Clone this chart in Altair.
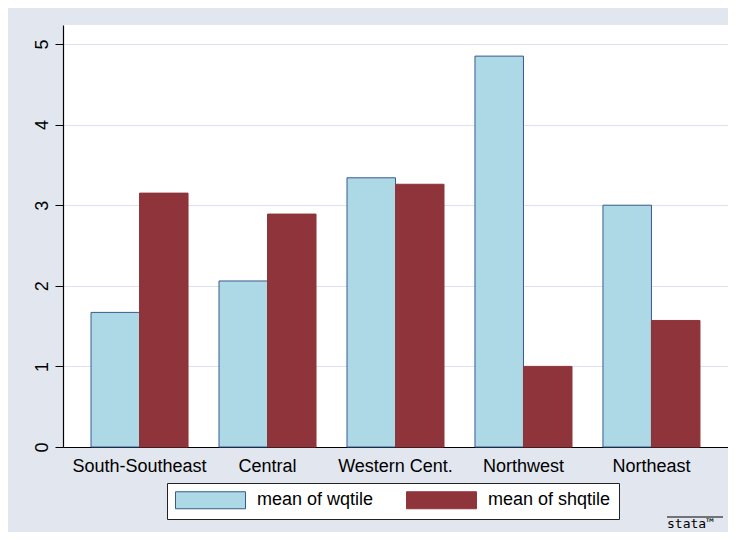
import altair as alt
import pandas as pd

regions = ["South-Southeast", "Central", "Western Cent.", "Northwest", "Northeast"]
series = ["mean of wqtile", "mean of shqtile"]
wqtile = [1.67, 2.06, 3.34, 4.85, 3.00]
shqtile = [3.15, 2.89, 3.26, 1.00, 1.57]
y_ticks = [0, 1, 2, 3, 4, 5]

rows = []
for r, a, b in zip(regions, wqtile, shqtile):
    rows.append({"region": r, "series": series[0], "value": a})
    rows.append({"region": r, "series": series[1], "value": b})
df = pd.DataFrame(rows)

FONT = "Liberation Sans"
BG = "#E1E6EF"

bars = alt.Chart(df).mark_bar(strokeWidth=1).encode(
    x=alt.X("region:N", sort=regions, title=None,
            scale=alt.Scale(paddingInner=0.242, paddingOuter=0.219),
            axis=alt.Axis(labelAngle=0, ticks=False, labelPadding=10, labelFontSize=18,
                          labelFont=FONT, labelColor="#000000", domainColor="#000000",
                          domainWidth=1.2, grid=False)),
    xOffset=alt.XOffset("series:N", sort=series, scale=alt.Scale(paddingInner=0, paddingOuter=0)),
    y=alt.Y("value:Q", title=None,
            scale=alt.Scale(domain=[0, 5.236], nice=False, zero=True),
            axis=alt.Axis(values=y_ticks, labelAngle=-90, labelAlign="center", labelBaseline="bottom",
                          labelPadding=4, tickSize=8, tickColor="#000000", labelFontSize=18,
                          labelFont=FONT, labelColor="#000000", domainColor="#000000",
                          domainWidth=1.2, grid=True, gridColor="#DCE2EE", gridWidth=1.2)),
    color=alt.Color("series:N", sort=series, title=None,
                    scale=alt.Scale(domain=series, range=["#ADD8E6", "#8F343A"]),
                    legend=alt.Legend(orient="none", legendX=104, legendY=458, direction="horizontal",
                                      symbolType="M-1,-1H7.235V1H-1Z", symbolSize=289,
                                      symbolStrokeWidth=1, labelFontSize=18, labelFont=FONT,
                                      labelColor="#000000", labelOffset=64, columnPadding=30,
                                      fillColor="#FFFFFF", strokeColor="#222222", padding=8)),
    stroke=alt.Stroke("series:N", sort=series, scale=alt.Scale(domain=series, range=["#3A5A8C", "#8F343A"]),
                      legend=None),
)

logo = alt.Chart(pd.DataFrame({"t": ["stata\u2122"]})).mark_text(
    font="DejaVu Sans Mono", fontSize=13, align="left", baseline="middle", color="#000000"
).encode(text="t:N", x=alt.value(604), y=alt.value(499))

logo_line = alt.Chart(pd.DataFrame({"t": [0]})).mark_rule(color="#000000", strokeWidth=1).encode(
    x=alt.value(604), x2=alt.value(660), y=alt.value(492))

chart = alt.layer(bars, logo, logo_line).properties(
    width=665, height=422,
    background=BG,
    padding={"left": 55, "top": 17, "right": 0, "bottom": 85},
    autosize=alt.AutoSizeParams(type="none"),
).configure_view(fill="#FFFFFF", stroke=None)

chart.save("out.html", embed_options={"renderer": "svg", "actions": False})
